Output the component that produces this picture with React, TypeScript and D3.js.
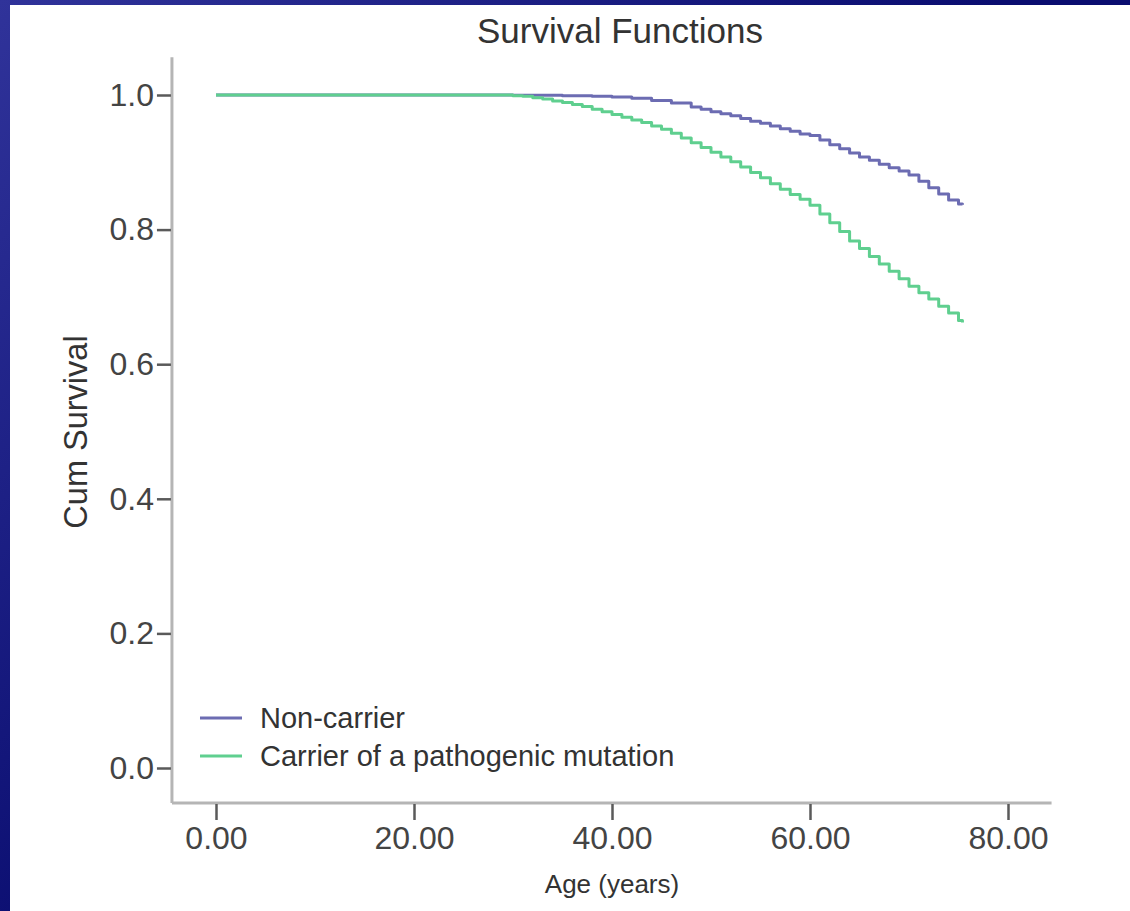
import React, { useRef, useEffect } from "react";
import * as d3 from "d3";

// Kaplan-Meier estimates (age in years, cumulative survival)
const nonCarrierAges = [0, 30, 35, 38, 40, 42, 44, 46, 48, 49, 50, 51, 52, 53, 54, 55, 56, 57, 58, 59, 60, 61, 62, 63, 64, 65, 66, 67, 68, 69, 70, 71, 72, 73, 74, 75, 75.4];
const nonCarrierSurvival = [1.0, 0.9995, 0.999, 0.998, 0.997, 0.995, 0.992, 0.988, 0.982, 0.979, 0.975, 0.972, 0.969, 0.965, 0.961, 0.958, 0.954, 0.95, 0.946, 0.942, 0.94, 0.933, 0.926, 0.92, 0.914, 0.908, 0.903, 0.897, 0.892, 0.887, 0.881, 0.872, 0.862, 0.853, 0.844, 0.838, 0.837];

const carrierAges = [0, 30, 31, 32, 33, 34, 35, 36, 37, 38, 39, 40, 41, 42, 43, 44, 45, 46, 47, 48, 49, 50, 51, 52, 53, 54, 55, 56, 57, 58, 59, 60, 61, 62, 63, 64, 65, 66, 67, 68, 69, 70, 71, 72, 73, 74, 75, 75.4];
const carrierSurvival = [1.0, 0.999, 0.998, 0.996, 0.994, 0.991, 0.989, 0.986, 0.983, 0.979, 0.975, 0.971, 0.967, 0.963, 0.959, 0.954, 0.949, 0.943, 0.936, 0.929, 0.922, 0.915, 0.908, 0.901, 0.893, 0.885, 0.877, 0.868, 0.86, 0.852, 0.845, 0.836, 0.823, 0.81, 0.797, 0.783, 0.772, 0.76, 0.749, 0.738, 0.727, 0.716, 0.706, 0.697, 0.686, 0.676, 0.665, 0.662];

const seriesNames = ["Non-carrier", "Carrier of a pathogenic mutation"];
const seriesColors = ["#6c6cb2", "#5fcf8f"];

const xTicks = [0, 20, 40, 60, 80];
const yTicks = [0, 0.2, 0.4, 0.6, 0.8, 1.0];

const title = "Survival Functions";
const xLabel = "Age (years)";
const yLabel = "Cum Survival";

function SurvivalChart() {
  const chartRef = useRef<HTMLDivElement>(null);

  useEffect(() => {
    d3.select(chartRef.current).select("svg").remove();

    const width = 1130,
      height = 911;
    const font = "'Liberation Sans', Arial, sans-serif";

    const svg = d3
      .select(chartRef.current)
      .append("svg")
      .attr("width", width)
      .attr("height", height)
      .style("position", "absolute")
      .style("top", "0px")
      .style("left", "0px")
      .style("display", "block");

    // slide frame
    const grad = svg
      .append("defs")
      .append("linearGradient")
      .attr("id", "frame")
      .attr("gradientUnits", "userSpaceOnUse")
      .attr("x1", 0)
      .attr("y1", 0)
      .attr("x2", 500)
      .attr("y2", 500);
    grad.append("stop").attr("offset", 0).attr("stop-color", "#30339a");
    grad.append("stop").attr("offset", 1).attr("stop-color", "#0a0d70");

    svg.append("rect").attr("width", width).attr("height", height).attr("fill", "url(#frame)");
    svg
      .append("rect")
      .attr("x", 10)
      .attr("y", 5)
      .attr("width", width - 10)
      .attr("height", height - 5)
      .attr("fill", "#fff");

    const x = d3.scaleLinear().domain([0, 80]).range([216, 1008]);
    const y = d3.scaleLinear().domain([0, 1]).range([768, 95]);
    const xFrame = [-4.45, 84.4];
    const yFrame = [-0.052, 1.056];

    // axis frame lines
    svg
      .append("line")
      .attr("x1", x(xFrame[0]))
      .attr("x2", x(xFrame[0]))
      .attr("y1", y(yFrame[0]))
      .attr("y2", y(yFrame[1]))
      .attr("stroke", "#b5b5b5")
      .attr("stroke-width", 3);
    svg
      .append("line")
      .attr("x1", x(xFrame[0]))
      .attr("x2", x(xFrame[1]))
      .attr("y1", y(yFrame[0]))
      .attr("y2", y(yFrame[0]))
      .attr("stroke", "#b5b5b5")
      .attr("stroke-width", 3);

    const xAxis = svg
      .append("g")
      .attr("transform", `translate(0, ${y(yFrame[0]) + 1})`)
      .call(
        d3
          .axisBottom(x)
          .tickValues(xTicks)
          .tickSize(16)
          .tickPadding(6)
          .tickFormat(d => d3.format(".2f")(d as number))
      );

    const yAxis = svg
      .append("g")
      .attr("transform", `translate(${x(xFrame[0]) - 1}, 0)`)
      .call(
        d3
          .axisLeft(y)
          .tickValues(yTicks)
          .tickSize(14)
          .tickPadding(3)
          .tickFormat(d => d3.format(".1f")(d as number))
      );

    [xAxis, yAxis].forEach(a => {
      a.select(".domain").remove();
      a.selectAll(".tick line").attr("stroke", "#5a5a5a").attr("stroke-width", 2.5);
      a.selectAll(".tick text")
        .attr("fill", "#444")
        .style("font-family", font)
        .style("font-size", "32px");
    });

    // survival curves
    const line = d3
      .line<[number, number]>()
      .x(d => x(d[0]))
      .y(d => y(d[1]))
      .curve(d3.curveStepAfter);

    const series: [number, number][][] = [
      nonCarrierAges.map((a, i) => [a, nonCarrierSurvival[i]]),
      carrierAges.map((a, i) => [a, carrierSurvival[i]])
    ];

    series.forEach((s, i) => {
      svg
        .append("path")
        .attr("d", line(s))
        .attr("fill", "none")
        .attr("stroke", seriesColors[i])
        .attr("stroke-width", 3)
        .attr("stroke-linejoin", "round");
    });

    // legend
    const legend = svg.append("g").attr("transform", "translate(200, 718)");
    seriesNames.forEach((name, i) => {
      const row = legend.append("g").attr("transform", `translate(0, ${i * 38})`);
      row
        .append("line")
        .attr("x1", 0)
        .attr("x2", 42)
        .attr("stroke", seriesColors[i])
        .attr("stroke-width", 3);
      row
        .append("text")
        .attr("x", 60)
        .attr("dy", "0.33em")
        .attr("fill", "#333")
        .style("font-family", font)
        .style("font-size", "29px")
        .text(name);
    });

    // titles
    svg
      .append("text")
      .attr("x", 620)
      .attr("y", 43)
      .attr("text-anchor", "middle")
      .attr("fill", "#333")
      .style("font-family", font)
      .style("font-size", "35px")
      .text(title);

    svg
      .append("text")
      .attr("x", x(40))
      .attr("y", 893)
      .attr("text-anchor", "middle")
      .attr("fill", "#333")
      .style("font-family", font)
      .style("font-size", "26px")
      .text(xLabel);

    svg
      .append("text")
      .attr("transform", `translate(87, 432) rotate(-90)`)
      .attr("text-anchor", "middle")
      .attr("fill", "#333")
      .style("font-family", font)
      .style("font-size", "32.5px")
      .text(yLabel);
  }, []);

  return <div ref={chartRef}></div>;
}

export default function App() {
  return <SurvivalChart />;
}
